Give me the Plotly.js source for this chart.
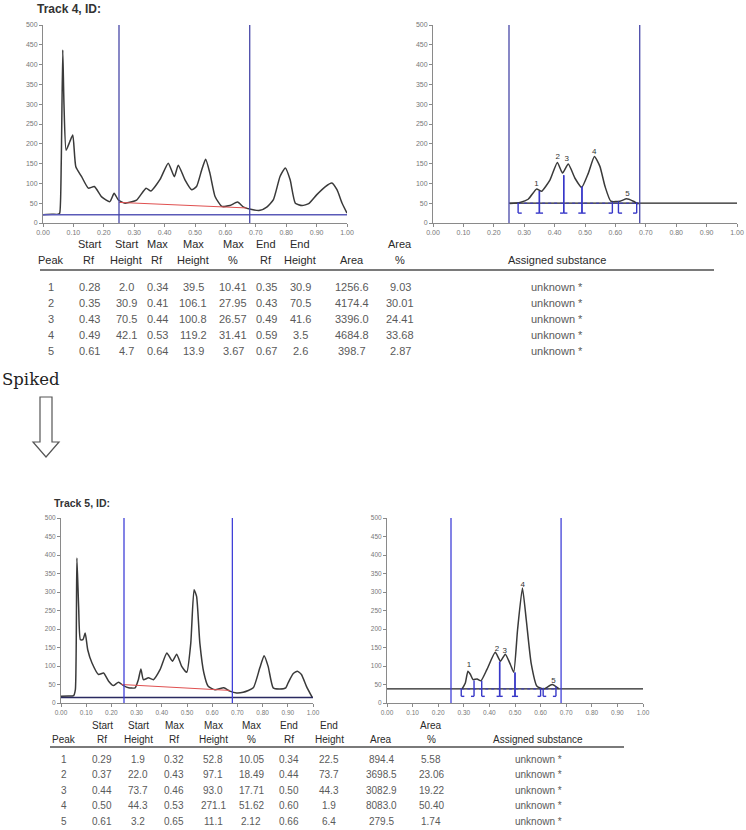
<!DOCTYPE html>
<html>
<head>
<meta charset="utf-8">
<script src="https://cdn.plot.ly/plotly-3.0.1.min.js"></script>
<style>
  body { margin: 0; background: #fff; }
  #chart { width: 746px; height: 830px; }
</style>
</head>
<body>
<div id="chart"></div>
<script>
const W = 746;
const H = 830;

// Track 4 - full lane profile
const rf4 = [0.00, 0.03, 0.05, 0.055, 0.06, 0.065, 0.069, 0.076, 0.088, 0.098, 0.108, 0.127, 0.149, 0.169, 0.193, 0.22, 0.234, 0.248, 0.27, 0.308, 0.339, 0.355, 0.385, 0.412, 0.432, 0.445, 0.467, 0.489, 0.505, 0.522, 0.535, 0.549, 0.566, 0.588, 0.615, 0.64, 0.66, 0.687, 0.714, 0.736, 0.758, 0.78, 0.797, 0.813, 0.83, 0.852, 0.874, 0.90, 0.929, 0.95, 0.967, 0.984, 1.0];
const h4 = [21, 22, 22, 25, 150, 437, 300, 184, 205, 222, 142, 117, 88, 92, 66, 54, 75, 58, 50, 58, 88, 81, 110, 151, 117, 146, 109, 84, 92, 134, 161, 126, 67, 42, 44, 53, 40, 34, 32, 40, 59, 118, 139, 109, 50, 44, 49, 71, 92, 101, 84, 50, 25];

// Track 4 - integration window
const rf4Win = [0.253, 0.286, 0.313, 0.341, 0.357, 0.385, 0.409, 0.426, 0.445, 0.467, 0.489, 0.511, 0.531, 0.549, 0.566, 0.585, 0.615, 0.637, 0.659, 0.676];
const h4Win = [49, 52, 60, 86, 80, 109, 153, 126, 149, 113, 90, 126, 168, 143, 92, 55, 55, 61, 55, 48];

// Track 5 - full lane profile
const rf5 = [0.00, 0.03, 0.05, 0.057, 0.063, 0.07, 0.077, 0.087, 0.096, 0.106, 0.123, 0.149, 0.169, 0.189, 0.208, 0.228, 0.248, 0.268, 0.294, 0.307, 0.317, 0.327, 0.347, 0.367, 0.393, 0.42, 0.442, 0.459, 0.479, 0.499, 0.515, 0.528, 0.538, 0.551, 0.567, 0.584, 0.611, 0.646, 0.67, 0.697, 0.723, 0.763, 0.789, 0.806, 0.822, 0.842, 0.868, 0.892, 0.901, 0.921, 0.938, 0.954, 0.974, 0.997];
const h5 = [18, 19, 20, 36, 392, 260, 171, 171, 189, 144, 108, 77, 81, 59, 47, 56, 47, 41, 41, 63, 92, 63, 68, 63, 90, 135, 113, 132, 99, 83, 162, 306, 288, 162, 81, 45, 36, 41, 32, 27, 29, 41, 95, 128, 99, 41, 38, 41, 54, 79, 86, 77, 45, 15];

// Track 5 - integration window
const rf5Win = [0.293, 0.306, 0.316, 0.326, 0.336, 0.352, 0.367, 0.39, 0.423, 0.443, 0.462, 0.482, 0.495, 0.51, 0.529, 0.544, 0.563, 0.586, 0.612, 0.645, 0.671];
const h5Win = [38, 54, 86, 77, 63, 65, 60, 90, 137, 113, 132, 104, 83, 198, 311, 225, 108, 45, 38, 50, 39];

// baselines
const redBase4 = { rf: [0.25, 0.67], h: [52, 38] };
const redBase5 = { rf: [0.24, 0.67], h: [50, 34] };
const floor4 = 21;
const floor5 = 15;
const winBase4 = 50;
const winBase5 = 38;
const windowRf = [0.25, 0.68];

// Peak tables
const peaks = [1, 2, 3, 4, 5];
const substance = ['unknown *', 'unknown *', 'unknown *', 'unknown *', 'unknown *'];

const startRf4 = [0.28, 0.35, 0.43, 0.49, 0.61];
const startHeight4 = [2.0, 30.9, 70.5, 42.1, 4.7];
const maxRf4 = [0.34, 0.41, 0.44, 0.53, 0.64];
const maxHeight4 = [39.5, 106.1, 100.8, 119.2, 13.9];
const maxPct4 = [10.41, 27.95, 26.57, 31.41, 3.67];
const endRf4 = [0.35, 0.43, 0.49, 0.59, 0.67];
const endHeight4 = [30.9, 70.5, 41.6, 3.5, 2.6];
const area4 = [1256.6, 4174.4, 3396.0, 4684.8, 398.7];
const areaPct4 = [9.03, 30.01, 24.41, 33.68, 2.87];

const startRf5 = [0.29, 0.37, 0.44, 0.50, 0.61];
const startHeight5 = [1.9, 22.0, 73.7, 44.3, 3.2];
const maxRf5 = [0.32, 0.43, 0.46, 0.53, 0.65];
const maxHeight5 = [52.8, 97.1, 93.0, 271.1, 11.1];
const maxPct5 = [10.05, 18.49, 17.71, 51.62, 2.12];
const endRf5 = [0.34, 0.44, 0.50, 0.60, 0.66];
const endHeight5 = [22.5, 73.7, 44.3, 1.9, 6.4];
const area5 = [894.4, 3698.5, 3082.9, 8083.0, 279.5];
const areaPct5 = [5.58, 23.06, 19.22, 50.40, 1.74];

const headTop = ['', 'Start', 'Start', 'Max', 'Max', 'Max', 'End', 'End', '', 'Area', ''];
const headBottom = ['Peak', 'Rf', 'Height', 'Rf', 'Height', '%', 'Rf', 'Height', 'Area', '%', 'Assigned substance'];

const CURVE = '#3a3a3a';
const NAVY = '#4848a8';
const BRACKET = '#3838c8';
const FONT = 'Liberation Sans, Arial, sans-serif';

function px(x) { return x / W; }
function py(y) { return 1 - y / H; }

function curve(x, y, xa, ya) {
    return {
        x: x, y: y, xaxis: xa, yaxis: ya, type: 'scatter', mode: 'lines',
        line: { color: CURVE, width: 1.5, shape: 'spline', smoothing: 0.5 },
        hoverinfo: 'skip'
    };
}

function segment(x, y, xa, ya, color, width, dash) {
    return {
        x: x, y: y, xaxis: xa, yaxis: ya, type: 'scatter', mode: 'lines',
        line: { color: color, width: width, dash: dash || 'solid' },
        hoverinfo: 'skip'
    };
}

// peak boundary marks in the window plot, from the table's start/end values
function brackets(sRf, sH, eRf, eH, base, bottom, xa, ya) {
    const cap = 0.012;
    const x = [];
    const y = [];
    for (let i = 0; i < sRf.length; i++) {
        x.push(sRf[i], sRf[i], null, sRf[i], sRf[i] + cap, null);
        y.push(bottom, base + sH[i], null, bottom, bottom, null);
        x.push(eRf[i], eRf[i], null, eRf[i] - cap, eRf[i], null);
        y.push(bottom, base + eH[i], null, bottom, bottom, null);
    }
    return segment(x, y, xa, ya, BRACKET, 1.4);
}

function peakLabels(maxRf, maxH, base, xa, ya) {
    return {
        x: maxRf, y: maxH.map(v => v + base), text: peaks.map(String),
        xaxis: xa, yaxis: ya, type: 'scatter', mode: 'text',
        textposition: 'top center',
        textfont: { size: 8, color: '#333', family: FONT },
        hoverinfo: 'skip'
    };
}

function axisPair(x0, x1, y0, y1, anchorX, anchorY, fontSize) {
    const common = {
        showgrid: false, zeroline: false, showline: true, linecolor: '#8a8a8a', linewidth: 1,
        ticks: 'outside', ticklen: 3, tickcolor: '#8a8a8a',
        tickfont: { size: fontSize, color: '#777', family: FONT },
        fixedrange: true
    };
    const xa = Object.assign({}, common, {
        domain: [px(x0), px(x1)], range: [0, 1], dtick: 0.1, tickformat: '.2f', anchor: anchorY
    });
    const ya = Object.assign({}, common, {
        domain: [py(y1), py(y0)], range: [0, 500], dtick: 50, anchor: anchorX
    });
    return [xa, ya];
}

function windowLines(xref, yref, color) {
    return windowRf.map(r => ({
        type: 'line', xref: xref, yref: yref, x0: r, x1: r, y0: 0, y1: 500,
        line: { color: color, width: 1.3 }
    }));
}

function tableParts(cols, rowYs, headY, lineY, lineX, fontSize, d) {
    const ann = [];
    const txt = (x, y, t, color, size) => ({
        xref: 'paper', yref: 'paper', x: px(x), y: py(y), text: t, showarrow: false,
        xanchor: 'center', yanchor: 'middle',
        font: { family: FONT, size: size, color: color }
    });
    cols.forEach((c, j) => {
        if (headTop[j]) ann.push(txt(c, headY[0], headTop[j], '#2a2a2a', fontSize));
        ann.push(txt(c, headY[1], headBottom[j], '#2a2a2a', fontSize));
    });
    for (let i = 0; i < peaks.length; i++) {
        const row = [
            String(peaks[i]), d.sRf[i].toFixed(2), d.sH[i].toFixed(1), d.mRf[i].toFixed(2),
            d.mH[i].toFixed(1), d.mP[i].toFixed(2), d.eRf[i].toFixed(2), d.eH[i].toFixed(1),
            d.area[i].toFixed(1), d.aP[i].toFixed(2), substance[i]
        ];
        row.forEach((t, j) => ann.push(txt(cols[j], rowYs[i], t, '#5a5a5a', fontSize)));
    }
    const shape = {
        type: 'line', xref: 'paper', yref: 'paper',
        x0: px(lineX[0]), x1: px(lineX[1]), y0: py(lineY), y1: py(lineY),
        line: { color: '#7a7a7a', width: 2 }
    };
    return { ann: ann, shape: shape };
}

const data = [
    // Track 4 full lane
    curve(rf4, h4, 'x', 'y'),
    segment(redBase4.rf, redBase4.h, 'x', 'y', '#e05050', 1),
    segment([0, 1], [floor4, floor4], 'x', 'y', '#5a5ab8', 1.5),
    // Track 4 window
    segment([0.25, 1], [winBase4, winBase4], 'x2', 'y2', '#222', 1.2),
    segment([startRf4[0], endRf4[4]], [winBase4, winBase4], 'x2', 'y2', BRACKET, 1, 'dot'),
    curve(rf4Win, h4Win, 'x2', 'y2'),
    brackets(startRf4, startHeight4, endRf4, endHeight4, winBase4, 25, 'x2', 'y2'),
    peakLabels(maxRf4, maxHeight4, winBase4, 'x2', 'y2'),
    // Track 5 full lane
    curve(rf5, h5, 'x3', 'y3'),
    segment(redBase5.rf, redBase5.h, 'x3', 'y3', '#e05050', 1),
    segment([0, 1], [floor5, floor5], 'x3', 'y3', '#2a2a60', 1.4),
    // Track 5 window
    segment([0, 1], [winBase5, winBase5], 'x4', 'y4', '#222', 1.2),
    segment([startRf5[0], endRf5[4]], [winBase5, winBase5], 'x4', 'y4', BRACKET, 1, 'dot'),
    curve(rf5Win, h5Win, 'x4', 'y4'),
    brackets(startRf5, startHeight5, endRf5, endHeight5, winBase5, 18, 'x4', 'y4'),
    peakLabels(maxRf5, maxHeight5, winBase5, 'x4', 'y4')
];

const [xa1, ya1] = axisPair(43, 347, 25, 223, 'x', 'y', 7);
const [xa2, ya2] = axisPair(433, 737, 25, 223, 'x2', 'y2', 7);
const [xa3, ya3] = axisPair(61, 313, 518, 703, 'x3', 'y3', 6.5);
const [xa4, ya4] = axisPair(387, 643, 518, 703, 'x4', 'y4', 6.5);

const table4 = tableParts(
    [51, 89, 126, 157, 193, 233, 266, 300, 352, 400, 557],
    [287, 303, 319, 335, 351], [244, 260], 270, [40, 714], 11,
    { sRf: startRf4, sH: startHeight4, mRf: maxRf4, mH: maxHeight4, mP: maxPct4, eRf: endRf4, eH: endHeight4, area: area4, aP: areaPct4 }
);
const table5 = tableParts(
    [64, 102, 138, 174, 213, 251, 289, 329, 381, 431, 538],
    [759, 774.5, 790, 805.5, 821], [725, 739], 747, [50, 624], 10,
    { sRf: startRf5, sH: startHeight5, mRf: maxRf5, mH: maxHeight5, mP: maxPct5, eRf: endRf5, eH: endHeight5, area: area5, aP: areaPct5 }
);

// hollow "spiked" arrow
const arrowPts = [[40, 397], [52, 397], [52, 442], [59, 442], [46, 457], [33, 442], [40, 442]];
const arrowPath = 'M ' + arrowPts.map(p => px(p[0]) + ',' + py(p[1])).join(' L ') + ' Z';

const layout = {
    width: W, height: H,
    margin: { l: 0, r: 0, t: 0, b: 0 },
    paper_bgcolor: '#fff', plot_bgcolor: 'rgba(0,0,0,0)',
    showlegend: false,
    xaxis: xa1, yaxis: ya1,
    xaxis2: xa2, yaxis2: ya2,
    xaxis3: xa3, yaxis3: ya3,
    xaxis4: xa4, yaxis4: ya4,
    shapes: [
        ...windowLines('x', 'y', NAVY),
        ...windowLines('x2', 'y2', NAVY),
        ...windowLines('x3', 'y3', '#4040d8'),
        ...windowLines('x4', 'y4', '#4040d8'),
        table4.shape, table5.shape,
        { type: 'path', xref: 'paper', yref: 'paper', path: arrowPath,
          fillcolor: '#fff', line: { color: '#555', width: 1.2 } }
    ],
    annotations: [
        { xref: 'paper', yref: 'paper', x: px(35), y: py(9), xanchor: 'left', yanchor: 'middle',
          text: '<b>Track 4, ID:</b>', showarrow: false,
          font: { family: FONT, size: 12, color: '#333' } },
        { xref: 'paper', yref: 'paper', x: px(52), y: py(503), xanchor: 'left', yanchor: 'middle',
          text: '<b>Track 5, ID:</b>', showarrow: false,
          font: { family: FONT, size: 10.5, color: '#333' } },
        { xref: 'paper', yref: 'paper', x: px(0), y: py(379), xanchor: 'left', yanchor: 'middle',
          text: 'Spiked', showarrow: false,
          font: { family: 'DejaVu Serif, Liberation Serif, serif', size: 16.5, color: '#222' } },
        ...table4.ann,
        ...table5.ann
    ]
};

Plotly.newPlot('chart', data, layout, { displayModeBar: false, staticPlot: true });
</script>
</body>
</html>
